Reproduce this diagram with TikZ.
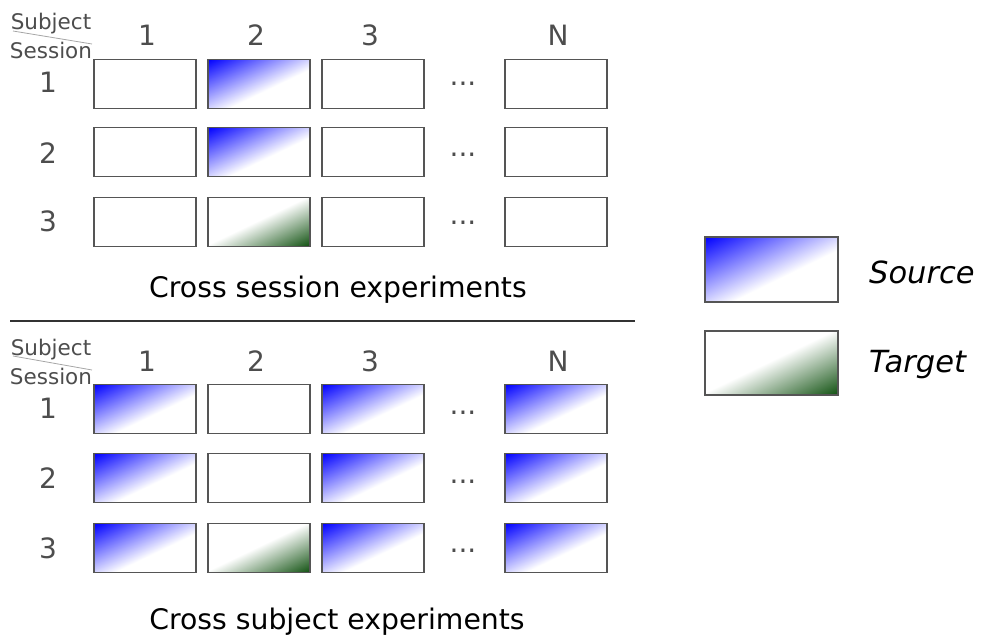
\documentclass[tikz,border=0pt]{standalone}
\usepackage{fontspec}
\setmainfont{DejaVu Sans}
\definecolor{txt}{HTML}{4D4D4D}
\definecolor{edge}{HTML}{555555}
\definecolor{tgreen}{RGB}{15,80,15}
\pgfdeclarehorizontalshading{srcshade}{100bp}{color(0bp)=(blue); color(25bp)=(blue); color(55bp)=(white); color(100bp)=(white)}
\pgfdeclarehorizontalshading{tgtshade}{100bp}{color(0bp)=(white); color(49bp)=(white); color(75bp)=(tgreen); color(100bp)=(tgreen)}
\tikzset{
  cell/.style={draw=edge, line width=1.3pt, minimum width=102pt, minimum height=49pt, inner sep=0pt, fill=white},
  frame/.style={cell, fill=none},
  lbl/.style={text=txt, font=\fontsize{28}{30}\selectfont, inner sep=0pt, anchor=base},
  hdr/.style={text=txt, font=\fontsize{21.5}{24}\selectfont, inner sep=0pt, anchor=base},
  captext/.style={text=black, font=\fontsize{28.3}{30}\selectfont, inner sep=0pt, anchor=base},
  leg/.style={text=black, font=\fontsize{30.5}{32}\selectfont\itshape, inner sep=0pt, anchor=base west},
  diag/.style={draw=gray!70, line width=0.8pt}
}
% #1 name, #2 x, #3 y, #4 shading, #5 width, #6 height
\newcommand\shadedcell[6]{%
  \begin{scope}
    \clip[shift={(#2,#3)}] (-#5/2,-#6/2) rectangle (#5/2,#6/2);
    \begin{scope}[transform canvas={shift={(#2,#3)}, xscale=#5/100, yscale=#6/100, rotate=-45}]
      \shade[shading=#4] (-70.72,-70.72) rectangle (70.72,70.72);
    \end{scope}
  \end{scope}
  \node[frame, minimum width=#5pt, minimum height=#6pt] (#1) at (#2,#3) {};
}
\begin{document}
\begin{tikzpicture}[x=1pt,y=-1pt]
\useasboundingbox (0,0) rectangle (982,637);
% ---------- top section ----------
\node[hdr] (ts1) at (51,29) {Subject};
\node[hdr] (ts2) at (51,58) {Session};
\coordinate (td1) at (13,31); \coordinate (td2) at (92,44);
\draw[diag] (td1) -- (td2);
\node[lbl] (th1) at (147,45) {1};
\node[lbl] (th2) at (256,45) {2};
\node[lbl] (th3) at (370,45) {3};
\node[lbl] (thN) at (558,45) {N};
\node[lbl] (tr1) at (48,92) {1};
\node[lbl] (tr2) at (48,163) {2};
\node[lbl] (tr3) at (48,231) {3};
% row 1
\node[cell] (a11) at (145,84) {};
\shadedcell{a12}{259}{84}{srcshade}{102}{49}
\node[cell] (a13) at (373,84) {};
\node[lbl]  (ad1) at (463,85) {...};
\node[cell] (a1N) at (556,84) {};
% row 2
\node[cell] (a21) at (145,152) {};
\shadedcell{a22}{259}{152}{srcshade}{102}{49}
\node[cell] (a23) at (373,152) {};
\node[lbl]  (ad2) at (463,156) {...};
\node[cell] (a2N) at (556,152) {};
% row 3
\node[cell] (a31) at (145,222) {};
\shadedcell{a32}{259}{222}{tgtshade}{102}{49}
\node[cell] (a33) at (373,222) {};
\node[lbl]  (ad3) at (463,224) {...};
\node[cell] (a3N) at (556,222) {};
\node[captext] (tcap) at (338,297) {Cross session experiments};
% divider
\coordinate (dv1) at (10,321); \coordinate (dv2) at (635,321);
\draw[draw=black!80, line width=1.4pt] (dv1) -- (dv2);
% ---------- bottom section ----------
\node[hdr] (bs1) at (51,355) {Subject};
\node[hdr] (bs2) at (51,384) {Session};
\coordinate (bd1) at (13,356); \coordinate (bd2) at (92,370);
\draw[diag] (bd1) -- (bd2);
\node[lbl] (bh1) at (147,371) {1};
\node[lbl] (bh2) at (256,371) {2};
\node[lbl] (bh3) at (370,371) {3};
\node[lbl] (bhN) at (558,371) {N};
\node[lbl] (br1) at (48,418) {1};
\node[lbl] (br2) at (48,488) {2};
\node[lbl] (br3) at (48,558) {3};
% row 1
\shadedcell{b11}{145}{409}{srcshade}{102}{49}
\node[cell] (b12) at (259,409) {};
\shadedcell{b13}{373}{409}{srcshade}{102}{49}
\node[lbl]  (bd1t) at (463,414) {...};
\shadedcell{b1N}{556}{409}{srcshade}{102}{49}
% row 2
\shadedcell{b21}{145}{478}{srcshade}{102}{49}
\node[cell] (b22) at (259,478) {};
\shadedcell{b23}{373}{478}{srcshade}{102}{49}
\node[lbl]  (bd2t) at (463,483) {...};
\shadedcell{b2N}{556}{478}{srcshade}{102}{49}
% row 3
\shadedcell{b31}{145}{548}{srcshade}{102}{49}
\shadedcell{b32}{259}{548}{tgtshade}{102}{49}
\shadedcell{b33}{373}{548}{srcshade}{102}{49}
\node[lbl]  (bd3t) at (463,552) {...};
\shadedcell{b3N}{556}{548}{srcshade}{102}{49}
\node[captext] (bcap) at (337,629) {Cross subject experiments};
% ---------- legend ----------
\shadedcell{lsrc}{771.5}{269.5}{srcshade}{133}{65}
\shadedcell{ltgt}{771.5}{363}{tgtshade}{133}{64}
\node[leg] (lsrct) at (869,283) {Source};
\node[leg] (ltgtt) at (869,372) {Target};
\end{tikzpicture}
\end{document}
